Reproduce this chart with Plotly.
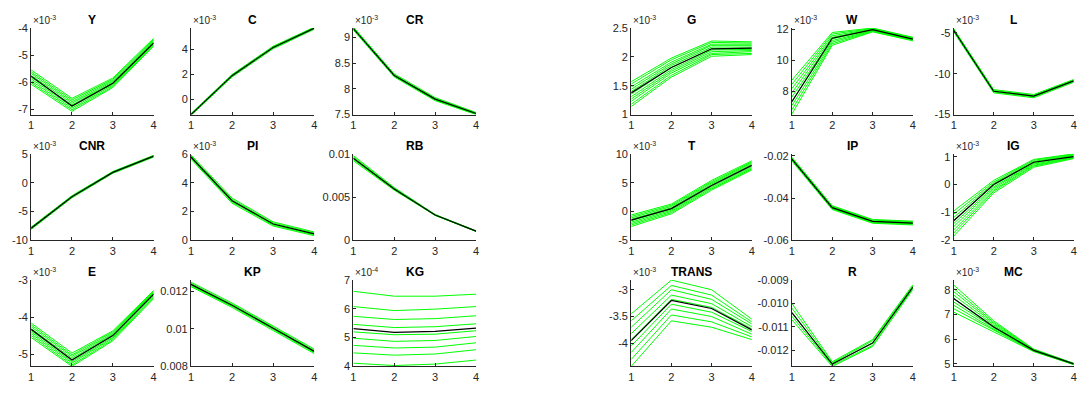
import plotly.graph_objects as go

steps = [1, 2, 3, 4]

# ---------------- left block ----------------
Y_med = [-5.78, -6.88, -6.04, -4.55]
Y_draws = [
    [-5.55, -6.60, -5.85, -4.38], [-5.62, -6.66, -5.89, -4.42], [-5.68, -6.72, -5.94, -4.45],
    [-5.75, -6.78, -5.98, -4.49], [-5.82, -6.84, -6.02, -4.52], [-5.88, -6.90, -6.07, -4.56],
    [-5.95, -6.96, -6.11, -4.60], [-6.02, -7.02, -6.16, -4.63], [-6.08, -7.08, -6.20, -4.67],
]
Y_range = [-7.2, -4.0]
Y_ticks = [-7, -6, -5, -4]

C_med = [-1.20, 1.90, 4.15, 5.69]
C_draws = [
    [-1.28, 1.80, 4.05, 5.60], [-1.24, 1.85, 4.10, 5.64], [-1.20, 1.90, 4.15, 5.69],
    [-1.16, 1.95, 4.20, 5.73], [-1.12, 2.00, 4.25, 5.77],
]
C_range = [-1.2, 5.7]
C_ticks = [0, 2, 4]

CR_med = [9.17, 8.26, 7.80, 7.52]
CR_draws = [
    [9.20, 8.29, 7.83, 7.54], [9.185, 8.275, 7.815, 7.53], [9.17, 8.26, 7.80, 7.52],
    [9.155, 8.245, 7.785, 7.51], [9.14, 8.23, 7.77, 7.50],
]
CR_range = [7.5, 9.18]
CR_ticks = [7.5, 8, 8.5, 9]

CNR_med = [-7.90, -2.43, 1.79, 4.60]
CNR_draws = [
    [-7.7, -2.25, 1.95, 4.75], [-7.8, -2.34, 1.87, 4.68], [-7.9, -2.43, 1.79, 4.60],
    [-8.0, -2.52, 1.71, 4.52], [-8.1, -2.61, 1.63, 4.45],
]
CNR_range = [-10, 5]
CNR_ticks = [-10, -5, 0, 5]

PI_med = [5.78, 2.75, 1.13, 0.45]
PI_draws = [
    [5.93, 2.93, 1.28, 0.58], [5.86, 2.84, 1.20, 0.52], [5.78, 2.75, 1.13, 0.45],
    [5.70, 2.66, 1.06, 0.38], [5.63, 2.57, 0.99, 0.32],
]
PI_range = [0, 6]
PI_ticks = [0, 2, 4, 6]

RB_med = [0.0095, 0.00595, 0.00293, 0.00106]
RB_draws = [
    [0.0098, 0.0061, 0.00298, 0.00109], [0.00965, 0.00603, 0.00296, 0.00108],
    [0.0095, 0.00595, 0.00293, 0.00106], [0.00935, 0.00588, 0.0029, 0.00104],
    [0.0092, 0.0058, 0.00288, 0.00103],
]
RB_range = [0, 0.01]
RB_ticks = [0, 0.005, 0.01]

E_med = [-4.33, -5.16, -4.50, -3.38]
E_draws = [
    [-4.16, -4.97, -4.37, -3.28], [-4.21, -5.02, -4.40, -3.31], [-4.26, -5.06, -4.44, -3.33],
    [-4.31, -5.11, -4.47, -3.36], [-4.36, -5.15, -4.50, -3.39], [-4.40, -5.20, -4.54, -3.42],
    [-4.45, -5.24, -4.57, -3.45], [-4.50, -5.29, -4.61, -3.47], [-4.55, -5.33, -4.64, -3.50],
]
E_range = [-5.33, -3.0]
E_ticks = [-5, -4, -3]

KP_med = [0.01237, 0.01126, 0.01003, 0.0088]
KP_draws = [
    [0.01249, 0.01138, 0.01015, 0.00892], [0.01243, 0.01132, 0.01009, 0.00886],
    [0.01237, 0.01126, 0.01003, 0.0088], [0.01231, 0.0112, 0.00997, 0.00874],
    [0.01225, 0.01114, 0.00991, 0.00868],
]
KP_range = [0.008, 0.0126]
KP_ticks = [0.008, 0.01, 0.012]

KG_med = [5.31, 5.18, 5.22, 5.33]
KG_draws = [
    [6.61, 6.44, 6.44, 6.51], [6.08, 5.94, 5.99, 6.08], [5.74, 5.63, 5.66, 5.76],
    [5.46, 5.35, 5.38, 5.48], [5.20, 5.10, 5.12, 5.24], [4.98, 4.87, 4.90, 5.04],
    [4.73, 4.64, 4.67, 4.82], [4.47, 4.39, 4.43, 4.58], [4.11, 4.03, 4.08, 4.22],
]
KG_range = [4, 7]
KG_ticks = [4, 5, 6, 7]

# ---------------- right block ----------------
G_med = [1.376, 1.815, 2.14, 2.15]
G_draws = [
    [1.57, 1.98, 2.275, 2.26], [1.53, 1.95, 2.25, 2.24], [1.48, 1.91, 2.22, 2.22],
    [1.44, 1.88, 2.20, 2.20], [1.40, 1.85, 2.17, 2.17], [1.355, 1.815, 2.14, 2.15],
    [1.31, 1.78, 2.12, 2.13], [1.27, 1.75, 2.09, 2.11], [1.23, 1.72, 2.06, 2.09],
    [1.18, 1.68, 2.04, 2.06], [1.14, 1.65, 2.01, 2.04],
]
G_range = [1, 2.5]
G_ticks = [1, 1.5, 2, 2.5]

W_med = [7.33, 11.44, 12.0, 11.38]
W_draws = [
    [8.73, 11.81, 12.10, 11.50], [8.46, 11.71, 12.07, 11.47], [8.18, 11.60, 12.04, 11.44],
    [7.91, 11.50, 12.01, 11.41], [7.64, 11.40, 11.98, 11.39], [7.36, 11.29, 11.94, 11.36],
    [7.09, 11.19, 11.91, 11.33], [6.81, 11.08, 11.88, 11.30], [6.54, 10.98, 11.85, 11.27],
]
W_range = [6.5, 12.1]
W_ticks = [8, 10, 12]

L_med = [-4.67, -12.14, -12.74, -10.87]
L_draws = [
    [-4.47, -11.94, -12.54, -10.70], [-4.57, -12.04, -12.64, -10.79], [-4.67, -12.14, -12.74, -10.87],
    [-4.77, -12.24, -12.84, -10.95], [-4.87, -12.34, -12.94, -11.04],
]
L_range = [-15, -4.4]
L_ticks = [-15, -10, -5]

T_med = [-1.5, 0.5, 4.5, 8.0]
T_draws = [
    [-0.6, 1.3, 5.4, 8.8], [-0.85, 1.09, 5.19, 8.6], [-1.1, 0.88, 4.98, 8.4],
    [-1.35, 0.66, 4.76, 8.2], [-1.6, 0.45, 4.55, 8.0], [-1.85, 0.24, 4.34, 7.8],
    [-2.1, 0.03, 4.13, 7.6], [-2.35, -0.19, 3.91, 7.4], [-2.6, -0.4, 3.7, 7.2],
]
T_range = [-5, 10]
T_ticks = [-5, 0, 5, 10]

IP_med = [-0.0215, -0.0445, -0.051, -0.0518]
IP_draws = [
    [-0.0206, -0.0436, -0.0501, -0.0509], [-0.0209, -0.0439, -0.0504, -0.0512],
    [-0.0212, -0.0442, -0.0507, -0.0515], [-0.0215, -0.0445, -0.0510, -0.0518],
    [-0.0218, -0.0448, -0.0513, -0.0521], [-0.0221, -0.0451, -0.0516, -0.0524],
    [-0.0224, -0.0454, -0.0519, -0.0527],
]
IP_range = [-0.06, -0.019]
IP_ticks = [-0.06, -0.04, -0.02]

IG_med = [-1.3, 0.0, 0.8, 1.0]
IG_draws = [
    [-0.95, 0.15, 0.90, 1.10], [-1.06, 0.09, 0.87, 1.08], [-1.18, 0.04, 0.83, 1.06],
    [-1.29, -0.02, 0.80, 1.04], [-1.40, -0.08, 0.76, 1.02], [-1.51, -0.13, 0.73, 0.99],
    [-1.63, -0.19, 0.69, 0.97], [-1.74, -0.24, 0.66, 0.95], [-1.85, -0.30, 0.62, 0.93],
]
IG_range = [-2, 1.1]
IG_ticks = [-2, -1, 0, 1]

TRANS_med = [-3.95, -3.2, -3.35, -3.75]
TRANS_draws = [
    [-3.45, -2.82, -3.00, -3.55], [-3.58, -2.92, -3.10, -3.60], [-3.70, -3.00, -3.18, -3.64],
    [-3.82, -3.10, -3.26, -3.69], [-3.93, -3.18, -3.33, -3.73], [-4.05, -3.27, -3.42, -3.78],
    [-4.17, -3.36, -3.50, -3.83], [-4.30, -3.47, -3.60, -3.88], [-4.43, -3.58, -3.70, -3.93],
]
TRANS_range = [-4.43, -2.82]
TRANS_ticks = [-4, -3.5, -3]

R_med = [-0.0104, -0.0126, -0.0117, -0.0093]
R_draws = [
    [-0.0100, -0.0125, -0.01155, -0.0092], [-0.0102, -0.01255, -0.0116, -0.00925],
    [-0.0104, -0.0126, -0.0117, -0.0093], [-0.01055, -0.01265, -0.0118, -0.00935],
    [-0.0107, -0.0127, -0.01185, -0.0094],
]
R_range = [-0.0127, -0.009]
R_ticks = [-0.012, -0.011, -0.010, -0.009]

MC_med = [7.65, 6.5, 5.55, 5.0]
MC_draws = [
    [8.20, 6.75, 5.60, 5.02], [8.06, 6.69, 5.59, 5.02], [7.93, 6.64, 5.57, 5.01],
    [7.79, 6.58, 5.56, 5.00], [7.65, 6.53, 5.55, 5.00], [7.51, 6.47, 5.54, 4.99],
    [7.38, 6.41, 5.53, 4.98], [7.24, 6.36, 5.51, 4.98], [7.10, 6.30, 5.50, 4.97],
]
MC_range = [4.9, 8.4]
MC_ticks = [5, 6, 7, 8]

# title, median, draws, y-range, y-ticks, tick format, power-of-ten label
panels = [
    ("Y", Y_med, Y_draws, Y_range, Y_ticks, "g", -3),
    ("C", C_med, C_draws, C_range, C_ticks, "g", -3),
    ("CR", CR_med, CR_draws, CR_range, CR_ticks, "g", -3),
    ("CNR", CNR_med, CNR_draws, CNR_range, CNR_ticks, "g", -3),
    ("PI", PI_med, PI_draws, PI_range, PI_ticks, "g", -3),
    ("RB", RB_med, RB_draws, RB_range, RB_ticks, "g", None),
    ("E", E_med, E_draws, E_range, E_ticks, "g", -3),
    ("KP", KP_med, KP_draws, KP_range, KP_ticks, "g", None),
    ("KG", KG_med, KG_draws, KG_range, KG_ticks, "g", -4),
    ("G", G_med, G_draws, G_range, G_ticks, "g", -3),
    ("W", W_med, W_draws, W_range, W_ticks, "g", -3),
    ("L", L_med, L_draws, L_range, L_ticks, "g", -3),
    ("T", T_med, T_draws, T_range, T_ticks, "g", -3),
    ("IP", IP_med, IP_draws, IP_range, IP_ticks, "g", None),
    ("IG", IG_med, IG_draws, IG_range, IG_ticks, "g", -3),
    ("TRANS", TRANS_med, TRANS_draws, TRANS_range, TRANS_ticks, "g", -3),
    ("R", R_med, R_draws, R_range, R_ticks, ".3f", None),
    ("MC", MC_med, MC_draws, MC_range, MC_ticks, "g", -3),
]

W_PX, H_PX = 1080, 394
col_px = [(28.3, 151.5), (189.0, 313.0), (352.3, 475.7),
          (631.7, 753.0), (793.3, 915.0), (956.0, 1076.7)]
row_px = [(22.7, 112.0), (152.5, 241.7), (282.7, 371.7)]

AX_COLOR = "#262626"
FONT = "Liberation Sans, Arial, Helvetica, sans-serif"

fig = go.Figure()
layout = dict(
    width=W_PX, height=H_PX,
    margin=dict(l=0, r=0, t=0, b=0),
    paper_bgcolor="white", plot_bgcolor="white",
    showlegend=False,
    font=dict(family=FONT, size=11, color=AX_COLOR),
)
annotations = []

for i, (name, med, draws, yr, yt, fmt, power) in enumerate(panels):
    block, k = divmod(i, 9)
    r, c = divmod(k, 3)
    c += 3 * block
    x0, x1 = col_px[c]
    y0, y1 = row_px[r]
    sfx = "" if i == 0 else str(i + 1)
    xa, ya = "x" + sfx, "y" + sfx

    for d in draws:
        fig.add_trace(go.Scatter(x=steps, y=d, mode="lines", xaxis=xa, yaxis=ya,
                                 line=dict(color="#00ff00", width=1), hoverinfo="skip"))
    fig.add_trace(go.Scatter(x=steps, y=med, mode="lines", xaxis=xa, yaxis=ya,
                             line=dict(color="black", width=1.2)))

    ticktext = [format(v, fmt) for v in yt]
    common = dict(showgrid=False, zeroline=False, showline=True, linecolor=AX_COLOR,
                  linewidth=1, ticks="inside", ticklen=3, tickcolor=AX_COLOR,
                  tickfont=dict(family=FONT, size=11, color=AX_COLOR))
    layout["xaxis" + sfx] = dict(common, domain=[x0 / W_PX, x1 / W_PX], range=[1, 4],
                                 tickvals=steps, anchor=ya)
    layout["yaxis" + sfx] = dict(common, domain=[1 - y1 / H_PX, 1 - y0 / H_PX], range=yr,
                                 tickvals=yt, ticktext=ticktext, anchor=xa)

    annotations.append(dict(text="<b>%s</b>" % name, x=(x0 + x1) / 2 / W_PX,
                            y=1 - (y0 - 8) / H_PX, xref="paper", yref="paper",
                            xanchor="center", yanchor="middle", showarrow=False,
                            font=dict(family=FONT, size=12, color="black")))
    if power is not None:
        annotations.append(dict(text="×10<sup>%d</sup>" % power, x=x0 / W_PX,
                                y=1 - (y0 - 8) / H_PX, xref="paper", yref="paper",
                                xanchor="left", yanchor="middle", showarrow=False,
                                font=dict(family=FONT, size=10, color=AX_COLOR)))

layout["annotations"] = annotations
fig.update_layout(**layout)
fig.write_html("out.html")
